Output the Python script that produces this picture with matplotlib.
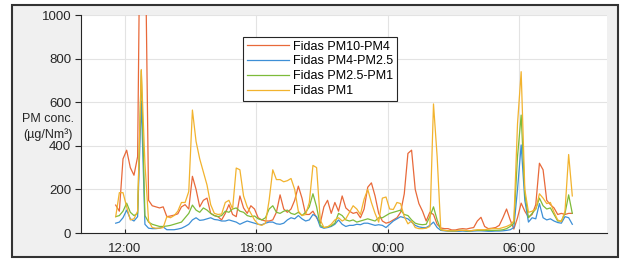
import matplotlib
matplotlib.use('Agg')
import matplotlib.pyplot as plt
import matplotlib.dates as mdates
from matplotlib.patches import Rectangle
import pandas as pd

plt.rcParams['font.family'] = ['Liberation Sans', 'DejaVu Sans']

# 10-minute samples, 11:35 -> 08:25
times = pd.date_range('2019-03-01 11:35', periods=126, freq='10min')

pm10_pm4 = [128, 100, 340, 380, 300, 265, 350, 2000, 1500, 150,
            125, 120, 115, 120, 75, 78, 82, 88, 120, 130,
            110, 260, 200, 120, 150, 160, 90, 80, 75, 60,
            90, 130, 85, 75, 170, 115, 90, 125, 110, 70,
            60, 55, 55, 60, 95, 175, 110, 95, 110, 150,
            215, 160, 85, 85, 100, 70, 45, 120, 150, 90,
            140, 100, 170, 115, 100, 90, 95, 70, 110, 210,
            230, 170, 90, 55, 45, 50, 60, 70, 95, 180,
            365, 380, 200, 135, 100, 55, 95, 85, 40, 23,
            20, 20, 14, 14, 18, 20, 18, 22, 25, 55,
            72, 30, 20, 22, 25, 35, 70, 110, 60, 18,
            70, 137, 100, 73, 85, 130, 320, 290, 150, 130,
            115, 85, 90, 85, 90, 90]

pm4_pm25 = [45, 50, 70, 105, 65, 55, 75, 605, 40, 22,
            20, 20, 22, 28, 15, 15, 15, 18, 22, 30,
            40, 60, 70, 58, 60, 65, 70, 62, 60, 55,
            55, 60, 55, 50, 40, 48, 55, 50, 45, 40,
            38, 45, 50, 50, 42, 40, 45, 60, 70, 65,
            80, 65, 55, 60, 85, 75, 28, 22, 25, 30,
            40, 60, 40, 30, 35, 35, 40, 38, 45, 45,
            40, 35, 38, 35, 25, 40, 55, 65, 75, 70,
            65, 50, 35, 28, 25, 25, 35, 50, 25, 12,
            10, 9, 8, 8, 8, 9, 8, 8, 9, 10,
            10, 9, 8, 8, 9, 9, 10, 12, 15, 25,
            200, 404, 150, 50, 70, 65, 135, 70, 60, 65,
            55, 48, 45, 75, 70, 40]

pm25_pm1 = [75, 80, 100, 137, 95, 80, 90, 745, 80, 50,
            40, 35, 30, 30, 32, 35, 40, 45, 50, 70,
            90, 128, 105, 95, 115, 105, 90, 80, 75, 80,
            100, 95, 110, 115, 100, 95, 80, 75, 78, 65,
            60, 70, 110, 125, 95, 90, 100, 105, 90, 85,
            95, 80, 95, 120, 180, 120, 35, 25, 28, 33,
            45, 90, 80, 60, 55, 60, 50, 55, 60, 65,
            60, 55, 70, 70, 80, 90, 95, 100, 105, 85,
            80, 60, 45, 40, 38, 40, 75, 120, 60, 15,
            12, 10, 10, 10, 12, 12, 10, 10, 12, 12,
            12, 12, 12, 12, 12, 13, 15, 20, 30, 45,
            350, 541, 180, 70, 90, 110, 160, 125, 110, 115,
            85, 55, 55, 90, 175, 90]

pm1 = [75, 185, 185, 120, 60, 65, 100, 750, 320, 55,
       25, 22, 22, 25, 75, 70, 80, 100, 140, 140,
       190, 564, 420, 340, 280, 220, 130, 90, 85, 87,
       140, 150, 110, 298, 290, 170, 120, 90, 60, 40,
       35, 45, 150, 290, 245, 245, 235, 240, 250, 200,
       100, 80, 85, 140, 310, 300, 60, 25, 28, 40,
       60, 70, 55, 65, 95, 125, 110, 85, 155, 200,
       140, 90, 50, 160, 165, 110, 108, 140, 135, 75,
       42, 55, 25, 20, 20, 22, 30, 592, 350, 15,
       12, 10, 10, 10, 12, 12, 12, 10, 12, 15,
       15, 15, 18, 20, 20, 20, 25, 30, 38, 55,
       500, 740, 200, 95, 100, 110, 180, 160, 135, 140,
       95, 60, 52, 100, 360, 170]

labels = ['Fidas PM10-PM4', 'Fidas PM4-PM2.5', 'Fidas PM2.5-PM1', 'Fidas PM1']
colors = ['#E8693A', '#3D8FD6', '#7DBB3A', '#F2B32E']

fig = plt.figure(figsize=(6.2, 2.6), dpi=100, facecolor='white')
fig.patches.append(Rectangle((12/620, 3/260), 606/620, 252/260, transform=fig.transFigure,
                             facecolor='#f0f0f0', edgecolor='#333333', lw=1.5, zorder=-1))

ax = fig.add_axes([81/620, 27/260, 526/620, 218/260])
ax.set_facecolor('white')

for series, lab, col in zip([pm10_pm4, pm4_pm25, pm25_pm1, pm1], labels, colors):
    ax.plot(times, series, color=col, lw=0.9, label=lab)

ax.set_ylim(0, 1000)
ax.set_yticks([0, 200, 400, 600, 800, 1000])
ax.set_xlim(pd.Timestamp('2019-03-01 10:00'), pd.Timestamp('2019-03-02 10:00'))
ax.xaxis.set_major_locator(mdates.HourLocator(byhour=[0, 6, 12, 18]))
ax.xaxis.set_major_formatter(mdates.DateFormatter('%H:%M'))

ax.grid(True, color='#e3e3e3', lw=0.8)
ax.set_axisbelow(True)
for s in ['top', 'right']:
    ax.spines[s].set_visible(False)
for s in ['left', 'bottom']:
    ax.spines[s].set_color('#262626')
    ax.spines[s].set_linewidth(0.8)
ax.tick_params(axis='x', direction='in', length=3, pad=7, labelsize=9.5, colors='#262626')
ax.tick_params(axis='y', direction='out', length=4, pad=3, labelsize=9.5, colors='#262626')

fig.text(48/620, 1 - 127/260, 'PM conc.\n(µg/Nm³)', ha='center', va='center',
         fontsize=9, color='#262626', linespacing=1.25)

leg = ax.legend(loc='upper left', bbox_to_anchor=((243-81)/526, (233-37)/218),
                fontsize=9, frameon=True, fancybox=False, framealpha=1,
                edgecolor='#262626', handlelength=3.4, handletextpad=0.3,
                labelspacing=0.22, borderpad=0.3, borderaxespad=0)
leg.get_frame().set_linewidth(0.8)

fig.savefig('out.png', dpi=100, facecolor=fig.get_facecolor())
